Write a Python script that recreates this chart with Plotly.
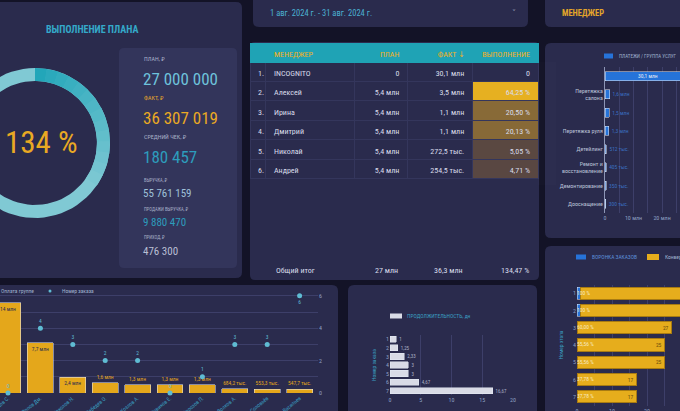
import numpy as np
import plotly.graph_objects as go

W, H = 680, 411
BG = "#131327"
PANEL = "#2a2b4d"
CARD = "#33355b"
GRID = "#3d3f69"
FONT = "Roboto Condensed, DejaVu Sans Condensed, Liberation Sans Narrow, Roboto, sans-serif"

# ---------------- data ----------------
plan_pct = 134.47
kpi_labels = ["ПЛАН, ₽", "ФАКТ, ₽", "СРЕДНИЙ ЧЕК, ₽", "ВЫРУЧКА, ₽", "ПРОДАЖИ ВЫРУЧКА, ₽", "ПРИХОД, ₽"]
kpi_values = ["27 000 000", "36 307 019", "180 457", "55 761 159", "9 880 470", "476 300"]
date_range = "1 авг. 2024 г. - 31 авг. 2024 г."

tbl_headers = ["", "МЕНЕДЖЕР", "ПЛАН", "ФАКТ ↓", "ВЫПОЛНЕНИЕ"]
tbl_num = ["1.", "2.", "3.", "4.", "5.", "6."]
tbl_manager = ["INCOGNITO", "Алексей", "Ирина", "Дмитрий", "Николай", "Андрей"]
tbl_plan = ["0", "5,4 млн", "5,4 млн", "5,4 млн", "5,4 млн", "5,4 млн"]
tbl_fact = ["30,1 млн", "3,5 млн", "1,1 млн", "1,1 млн", "272,5 тыс.", "254,5 тыс."]
tbl_perf = [0, 64.25, 20.50, 20.13, 5.05, 4.71]
tbl_total = ["", "Общий итог", "27 млн", "36,3 млн", "134,47 %"]

svc_series = "ПЛАТЕЖИ / ГРУППА УСЛУГ"
svc_names = ["Кузовной ремонт", "Перетяжка салона", "Шумоизоляция", "Перетяжка руля",
             "Детейлинг", "Ремонт и восстановление", "Демонтирование", "Дооснащение"]
svc_ticks = ["", "Перетяжка<br>салона", "", "Перетяжка руля", "Детейлинг",
             "Ремонт и<br>восстановление", "Демонтирование", "Дооснащение"]
svc_values = [30.1, 1.6, 1.5, 1.3, 0.5, 0.4, 0.35, 0.3]
svc_text = ["30,1 млн", "1,6 млн", "1,5 млн", "1,3 млн", "512 тыс.", "405 тыс.", "350 тыс.", "300 тыс."]

cli_series = ["Оплата группе", "Номер заказа"]
cli_names = ["Кузнецов С.", "Попов Дм.", "Соколов Н.", "Лебедев О.", "Козлов А.",
             "Новиков Е.", "Морозов П.", "Волков А.", "Соловьёв", "Васильев"]
cli_rev = [13.9, 7.7, 2.4, 1.6, 1.3, 1.3, 1.3, 0.684, 0.553, 0.548]
cli_rev_text = ["14 млн", "7,7 млн", "2,4 млн", "1,6 млн", "1,3 млн", "1,3 млн", "1,3 млн",
                "684,2 тыс.", "553,3 тыс.", "547,7 тыс."]
cli_orders = [0, 4, 3, 2, 2, 0, 1, 3, 3, 6]

dur_series = "ПРОДОЛЖИТЕЛЬНОСТЬ, дн"
dur_orders = ["1", "2", "3", "4", "5", "6", "7"]
dur_days = [1, 1.25, 2.33, 3, 3, 4.67, 16.67]

funnel_series = ["ВОРОНКА ЗАКАЗОВ", "Конверсия"]
stages = ["1", "2", "3", "4", "5", "6", "7"]
funnel_blue = [0.9, 0.9, 0, 0, 0, 0, 0]
funnel_count = [45, 45, 27, 25, 25, 17, 17]

# ---------------- helpers ----------------
def X(px):
    return px / W

def Y(py):
    return 1 - py / H

def rrect(x0, y0, x1, y1, r, color):
    pts = [("M", x0 + r, y0), ("L", x1 - r, y0), ("Q", x1, y0, x1, y0 + r), ("L", x1, y1 - r),
           ("Q", x1, y1, x1 - r, y1), ("L", x0 + r, y1), ("Q", x0, y1, x0, y1 - r),
           ("L", x0, y0 + r), ("Q", x0, y0, x0 + r, y0)]
    s = ""
    for p in pts:
        s += p[0] + " " + " ".join(
            f"{X(p[i]):.5f},{Y(p[i+1]):.5f}" for i in range(1, len(p), 2)) + " "
    return dict(type="path", path=s + "Z", xref="paper", yref="paper",
                fillcolor=color, line=dict(width=0), layer="below")

def box(x0, y0, x1, y1, color, kind="rect"):
    return dict(type=kind, x0=X(x0), x1=X(x1), y0=Y(y1), y1=Y(y0), xref="paper", yref="paper",
                fillcolor=color, line=dict(width=0), layer="above")

annotations = []

def txt(s, x, y, size, color, anchor="left", bold=False):
    annotations.append(dict(text=f"<b>{s}</b>" if bold else s, x=X(x), y=Y(y), xref="paper",
                            yref="paper", xanchor=anchor, yanchor="middle", showarrow=False,
                            font=dict(size=size, color=color, family=FONT)))

def mix(c1, c2, t):
    a = [int(c1[i:i + 2], 16) for i in (1, 3, 5)]
    b = [int(c2[i:i + 2], 16) for i in (1, 3, 5)]
    return "#" + "".join(f"{int(round(a[k] + (b[k] - a[k]) * t)):02x}" for k in range(3))

fig = go.Figure()

# ---------------- panels ----------------
shapes = [
    rrect(-10, 2, 242, 278, 6, PANEL),
    rrect(119, 48, 237, 268, 5, CARD),
    rrect(253, -10, 528, 27, 6, PANEL),
    rrect(250, 42, 539, 280, 5, PANEL),
    rrect(545, -10, 690, 27, 6, PANEL),
    rrect(545, 43, 690, 238, 6, PANEL),
    rrect(-10, 285, 338, 420, 6, PANEL),
    rrect(348, 285, 537, 420, 6, PANEL),
    rrect(545, 246, 690, 420, 6, PANEL),
]

# ---------------- donut (pixel overlay axis) ----------------
CX, CY, R1, R0 = 35, 143, 75, 62

def ring(a0, a1, color):
    th = np.radians(np.linspace(a0, a1, 80))
    xs = np.concatenate([CX + R1 * np.sin(th), CX + R0 * np.sin(th[::-1])])
    ys = np.concatenate([CY - R1 * np.cos(th), CY - R0 * np.cos(th[::-1])])
    fig.add_trace(go.Scatter(x=xs, y=ys, fill="toself", fillcolor=color, mode="lines",
                             line=dict(width=0), hoverinfo="skip", showlegend=False,
                             xaxis="x", yaxis="y"))

ring(0, 360, "#80c9d4")
over = (plan_pct - 100) / 100 * 360
n = 14
for i in range(n):
    ring(over * i / n, over * (i + 1) / n + 0.5, mix("#22a6b9", "#80c9d4", (i / n) ** 0.9))

# ---------------- table ----------------
vmax = max(tbl_perf)
perf_fill = [PANEL if v == 0 else mix("#423647", "#e6b021", (v / vmax) ** 0.75) for v in tbl_perf]
perf_txt = ["0" if v == 0 else f"{v:.2f} %".replace(".", ",") for v in tbl_perf]
fig.add_trace(go.Table(
    domain=dict(x=[X(250), X(539)], y=[Y(185), Y(43)]),
    columnwidth=[16, 89, 53, 65, 66],
    header=dict(values=tbl_headers, fill_color="#1fa3b5", line=dict(color="#1fa3b5", width=1),
                font=dict(color="#f2b01e", size=8, family=FONT),
                align=["left", "left", "right", "right", "right"], height=19),
    cells=dict(values=[tbl_num, tbl_manager, tbl_plan, tbl_fact, perf_txt],
               fill_color=[[PANEL] * 6] * 4 + [perf_fill],
               line=dict(color="#34365c", width=1),
               font=dict(color="#d8dcea", size=8, family=FONT),
               align=["left", "left", "right", "right", "right"], height=19.4),
))
foot_x = [258, 274, 400, 465, 531]
foot_anchor = ["left", "left", "right", "right", "right"]
for s, x, a in zip(tbl_total, foot_x, foot_anchor):
    if s:
        txt(s, x, 270, 8, "#d8dcea", a)

# ---------------- services chart ----------------
fig.add_trace(go.Bar(
    x=svc_values, y=svc_names, orientation="h", width=0.5,
    marker=dict(color="#2673d9"), name=svc_series,
    text=svc_text, textposition=["inside"] + ["outside"] * 7, insidetextanchor="middle",
    textangle=0, constraintext="none",
    textfont=dict(size=5.5, color="#3a6fc0"), insidetextfont=dict(size=5.5, color="#e8ecf8"),
    cliponaxis=True, xaxis="x2", yaxis="y2"))

# ---------------- combo chart ----------------
fig.add_trace(go.Bar(
    x=cli_names, y=cli_rev, width=0.8, marker=dict(color="#e4a71b"), name=cli_series[0],
    text=cli_rev_text, textposition=["inside"] * 3 + ["outside"] * 7, insidetextanchor="end",
    textangle=0, constraintext="none",
    textfont=dict(size=5.5, color="#e4a71b"), insidetextfont=dict(size=5.5, color="#2a2b4d"),
    cliponaxis=False, xaxis="x3", yaxis="y3"))
fig.add_trace(go.Scatter(
    x=cli_names, y=cli_orders, mode="markers+text", name=cli_series[1],
    marker=dict(color="#5fbcd3", size=5), text=[str(v) for v in cli_orders],
    textposition=["top center"] * 9 + ["bottom center"],
    textfont=dict(size=5.5, color="#5fbcd3"), cliponaxis=False,
    xaxis="x3", yaxis="y4"))

# ---------------- duration chart ----------------
fig.add_trace(go.Bar(
    x=dur_days, y=dur_orders, orientation="h", width=0.72,
    marker=dict(color="#d9dbe6"), name=dur_series,
    text=[f"{v:g}".replace(".", ",") for v in dur_days], textposition="outside",
    textangle=0, constraintext="none",
    textfont=dict(size=5, color="#aab0c6"), cliponaxis=False,
    xaxis="x5", yaxis="y5"))

# ---------------- funnel chart ----------------
fig.add_trace(go.Bar(
    x=funnel_blue, y=stages, orientation="h", width=0.7, marker=dict(color="#2673d9"),
    name=funnel_series[0], xaxis="x6", yaxis="y6"))
fig.add_trace(go.Bar(
    x=funnel_count, y=stages, orientation="h", width=0.7,
    marker=dict(color="#e6ad1c", line=dict(color="#a87b12", width=1)), name=funnel_series[1],
    text=[str(v) for v in funnel_count], textposition="inside", insidetextanchor="end",
    textangle=0, constraintext="none",
    insidetextfont=dict(size=5.5, color="#6b4c0c"),
    xaxis="x6", yaxis="y6"))
pct = [c / funnel_count[0] * 100 for c in funnel_count]
fig.add_trace(go.Scatter(
    x=[0] * len(stages), y=stages, mode="text",
    text=["100 %" if p == 100 else f"{p:.2f} %".replace(".", ",") for p in pct],
    textposition="middle right", textfont=dict(size=5.5, color="#f7e9c0"),
    hoverinfo="skip", xaxis="x6", yaxis="y6"))

# ---------------- texts ----------------
txt("ВЫПОЛНЕНИЕ ПЛАНА", 92, 29, 10, "#34a9c9", "center", True)
txt(f"{plan_pct:.0f} %", 41, 142, 31, "#e9a923", "center")
lab_y = [59, 98, 137, 180, 209, 238]
val_y = [79, 118, 157, 193, 222, 251]
lab_c = ["#a8b0c8", "#e3a52a", "#a8b0c8", "#a8b0c8", "#a8b0c8", "#a8b0c8"]
val_c = ["#6ec3dc", "#eaa923", "#2d9dbd", "#9fc0d8", "#2d9dbd", "#b9bfd4"]
val_s = [17, 17, 17, 11, 11, 11]
lab_s = [6, 6, 6, 4.5, 4.5, 4.5]
for i in range(6):
    txt(kpi_labels[i], 142, lab_y[i], lab_s[i], lab_c[i])
    txt(kpi_values[i], 141, val_y[i], val_s[i], val_c[i])
txt(date_range, 268, 13, 8.5, "#4bb0d2")
txt("˅", 514, 13, 9, "#8a90aa", "center")
txt("МЕНЕДЖЕР", 560, 13, 8.5, "#e3a52a", "left", True)

# legend swatches (drawn as shapes + text)
LEG = "#9fb0cc"
shapes.append(box(604, 53.5, 613, 58.5, "#2673d9"))
txt(svc_series, 617, 56, 5, LEG)
shapes.append(box(-12, 288.5, -3, 293.5, "#e4a71b"))
txt(cli_series[0], -1, 291, 5.5, LEG)
shapes.append(box(48.5, 289.5, 51.5, 292.5, "#5fbcd3", "circle"))
txt(cli_series[1], 60, 291, 5.5, LEG)
shapes.append(box(390, 313.5, 402, 318.5, "#d9dbe6"))
txt(dur_series, 405, 316, 5.5, "#3a9fc0")
shapes.append(box(576, 254.5, 586, 259.5, "#2673d9"))
txt(funnel_series[0], 590, 257, 5.5, "#5d8fd8")
shapes.append(box(647, 254, 659, 260, "#e6ad1c"))
txt(funnel_series[1], 663, 257, 5.5, LEG)

axis_font = dict(size=6, color="#8fa0c4", family=FONT)

fig.update_layout(
    width=W, height=H, margin=dict(l=0, r=0, t=0, b=0, autoexpand=False),
    paper_bgcolor=BG, plot_bgcolor="rgba(0,0,0,0)",
    font=dict(family=FONT, color="#c8cee0", size=7),
    barmode="stack", shapes=shapes, annotations=annotations, showlegend=False,
    xaxis=dict(domain=[0, 1], range=[0, W], visible=False, fixedrange=True),
    yaxis=dict(domain=[0, 1], range=[H, 0], visible=False, fixedrange=True),
    xaxis2=dict(domain=[X(605), 1], range=[0, 26.3], anchor="y2",
                tickvals=[0, 5, 10, 15, 20, 25], ticktext=["0", "", "10 млн", "", "20 млн", ""],
                gridcolor=GRID, zeroline=False, tickfont=axis_font),
    yaxis2=dict(domain=[Y(213), Y(67)], anchor="x2", type="category", autorange="reversed",
                tickvals=svc_names, ticktext=svc_ticks, showline=True, linecolor="#8d95b5",
                tickfont=dict(size=6, color="#b9c0d6", family=FONT), showgrid=False),
    xaxis3=dict(domain=[0, X(318)], range=[-0.247, 9.568], anchor="y3", type="category",
                tickangle=-40, tickfont=dict(size=5.5, color="#3a9fc0", family=FONT),
                showgrid=False, showline=False),
    yaxis3=dict(domain=[Y(393), Y(291)], range=[0, 15.7], anchor="x3", visible=False,
                showgrid=False),
    yaxis4=dict(domain=[Y(393), Y(291)], range=[0, 6.3], overlaying="y3", side="right",
                anchor="x3", tickvals=[0, 1, 2, 3, 4, 5, 6],
                ticktext=["0", "", "2", "", "4", "", "6"], gridcolor=GRID, zeroline=False,
                tickfont=axis_font),
    xaxis5=dict(domain=[X(390), X(513)], range=[0, 20], anchor="y5", dtick=5,
                gridcolor=GRID, zeroline=False, tickfont=axis_font),
    yaxis5=dict(domain=[Y(395), Y(335)], anchor="x5", type="category", autorange="reversed",
                tickfont=axis_font, showgrid=False,
                title=dict(text="Номер заказа", font=dict(size=5.5, color="#3a9fc0"), standoff=9)),
    xaxis6=dict(domain=[X(577), 1], range=[0, 29.4], anchor="y6",
                tickvals=[0, 5, 10, 15, 20, 25], ticktext=["0", "", "10", "", "20", ""],
                gridcolor=GRID, zeroline=False, tickfont=axis_font),
    yaxis6=dict(domain=[Y(405.5), Y(284.5)], anchor="x6", type="category",
                autorange="reversed", tickfont=axis_font, showgrid=False,
                title=dict(text="Номер этапа", font=dict(size=5.5, color="#3a9fc0"), standoff=9)),
)

fig.write_html("out.html", config={"displayModeBar": False},
               post_script="document.body.style.margin='0';document.body.style.overflow='hidden';")
